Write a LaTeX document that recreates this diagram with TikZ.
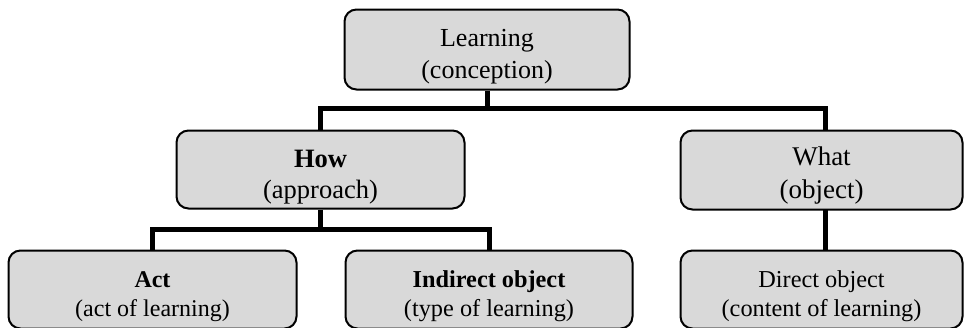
\documentclass[tikz,border=0pt]{standalone}
\usepackage{fontspec}
\setmainfont{Liberation Serif}
\definecolor{boxgray}{HTML}{D9D9D9}
\newcommand{\twolines}[3][7pt]{\raisebox{-#1}[\height][\depth]{\begin{tabular}{@{}c@{}}#2\\#3\end{tabular}}}
\tikzset{
  box/.style={draw=black, fill=boxgray, line width=2pt, rounded corners=12pt,
              inner sep=0pt, align=center},
  conn/.style={draw=black, line width=5pt}
}
\begin{document}
\begin{tikzpicture}[x=1pt,y=-1pt]
\useasboundingbox (0,0) rectangle (964,327);
% boxes
\node[box, minimum width=285pt, minimum height=80pt,
      font=\fontsize{26}{32}\selectfont] (learn) at (487,49.5)
      {\twolines{Learning}{(conception)}};
\node[box, minimum width=288pt, minimum height=78pt,
      font=\fontsize{26.5}{31}\selectfont] (how) at (320.5,169.5)
      {\twolines{\textbf{How}}{(approach)}};
\node[box, minimum width=282pt, minimum height=79pt,
      font=\fontsize{27}{33}\selectfont] (what) at (821.5,170)
      {\twolines[5pt]{What}{(object)}};
\node[box, minimum width=288pt, minimum height=78pt,
      font=\fontsize{24}{29}\selectfont] (act) at (152.5,289.5)
      {\twolines{\textbf{Act}}{(act of learning)}};
\node[box, minimum width=287pt, minimum height=78pt,
      font=\fontsize{24.3}{29}\selectfont] (indirect) at (489,289.5)
      {\twolines{\textbf{Indirect object}}{(type of learning)}};
\node[box, minimum width=282pt, minimum height=78pt,
      font=\fontsize{24.3}{29}\selectfont] (direct) at (821.5,289.5)
      {\twolines{Direct object}{(content of learning)}};
% junctions
\coordinate (j1) at (489,108);
\coordinate (j2) at (321,229);
\coordinate (wtop) at (825,130);
\coordinate (wbot) at (825,210);
\coordinate (dtop) at (825,250);
% connectors
\draw[conn] (learn.south) -- (learn.south |- j1);
\draw[conn] (how.north) |- (j1) -| (wtop);
\draw[conn] (how.south) -- (how.south |- j2);
\draw[conn] (act.north) |- (j2) -| (indirect.north);
\draw[conn] (wbot) -- (dtop);
\end{tikzpicture}
\end{document}
